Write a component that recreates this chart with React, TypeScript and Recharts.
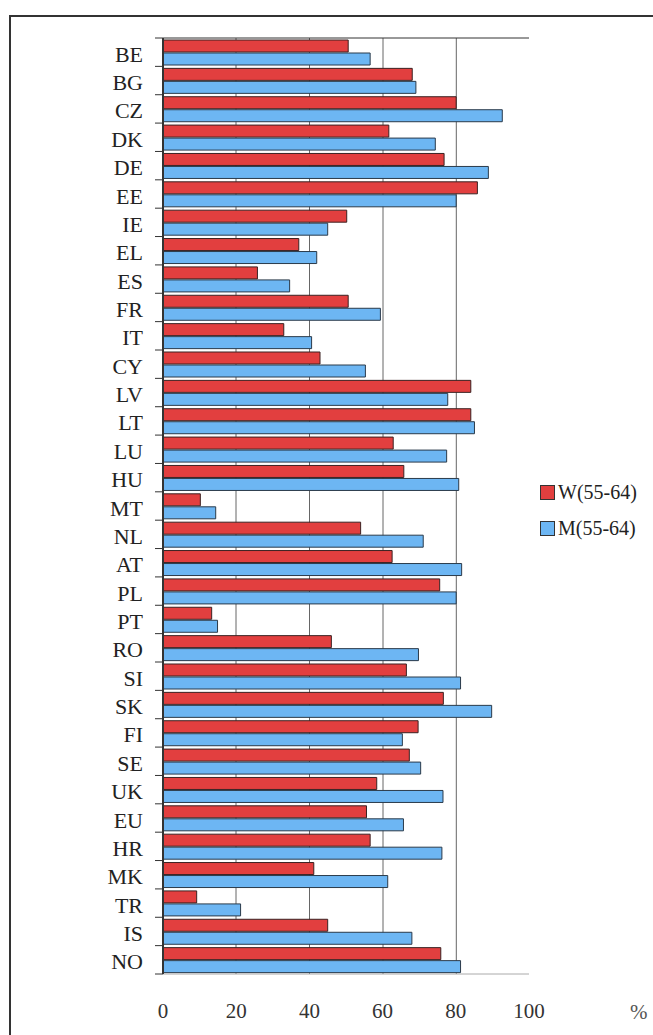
import React from "react";
import { BarChart, Bar, XAxis, YAxis, CartesianGrid } from "recharts";

const countries = [
  "BE", "BG", "CZ", "DK", "DE", "EE", "IE", "EL", "ES", "FR", "IT",
  "CY", "LV", "LT", "LU", "HU", "MT", "NL", "AT", "PL", "PT", "RO",
  "SI", "SK", "FI", "SE", "UK", "EU", "HR", "MK", "TR", "IS", "NO",
];

const women = [
  50.6, 68.1, 80.1, 61.7, 76.8, 85.9, 50.2, 37.1, 25.8, 50.6, 33.0,
  42.9, 84.1, 84.1, 62.9, 65.8, 10.2, 54.0, 62.6, 75.6, 13.3, 46.0,
  66.5, 76.6, 69.7, 67.3, 58.4, 55.6, 56.6, 41.2, 9.2, 45.0, 75.9,
];

const men = [
  56.6, 69.1, 92.7, 74.4, 88.9, 80.1, 45.0, 42.0, 34.6, 59.4, 40.6,
  55.3, 77.8, 85.1, 77.5, 80.8, 14.4, 71.1, 81.6, 80.1, 14.9, 69.8,
  81.3, 89.8, 65.4, 70.4, 76.5, 65.7, 76.2, 61.4, 21.2, 68.0, 81.3,
];

const xTicks = [0, 20, 40, 60, 80, 100];

const data = countries.map((c, i) => ({ name: c, w: women[i], m: men[i] }));

const FONT = "'Liberation Serif', 'DejaVu Serif', serif";
const RED = "#e23f3f";
const BLUE = "#6db6f3";

const W = 653;
const H = 1035;
const TOP = 38;
const BOTTOM = 974;
const BAND = (BOTTOM - TOP) / countries.length;

function CountryTick(props: any) {
  const { x, y, payload } = props;
  const half = BAND / 2;
  return (
    <g>
      <text
        x={x - 20}
        y={y + 2}
        textAnchor="end"
        dominantBaseline="central"
        fontFamily={FONT}
        fontSize={22}
        fill="#222"
      >
        {payload.value}
      </text>
      <line x1={x - 8} x2={x} y1={y + half} y2={y + half} stroke="#333" />
      {payload.index === 0 && (
        <line x1={x - 8} x2={x} y1={y - half} y2={y - half} stroke="#333" />
      )}
    </g>
  );
}

function LegendBox() {
  const items = [
    { label: "W(55-64)", color: RED },
    { label: "M(55-64)", color: BLUE },
  ];
  return (
    <div
      style={{
        position: "absolute",
        left: 540,
        top: 474,
        fontFamily: FONT,
        fontSize: 20,
        color: "#222",
      }}
    >
      {items.map((it) => (
        <div
          key={it.label}
          style={{ display: "flex", alignItems: "center", height: 36 }}
        >
          <span
            style={{
              display: "inline-block",
              width: 13,
              height: 13,
              background: it.color,
              border: "1px solid #333",
              marginRight: 3,
            }}
          />
          {it.label}
        </div>
      ))}
    </div>
  );
}

export default function App() {
  return (
    <div
      style={{
        position: "absolute",
        left: 0,
        top: 0,
        width: W,
        height: H,
        background: "#fff",
        overflow: "hidden",
      }}
    >
      <div
        style={{
          position: "absolute",
          left: 9,
          top: 15,
          width: 660,
          height: 1060,
          border: "2px solid #333",
          boxSizing: "border-box",
        }}
      />
      <div style={{ position: "absolute", left: 0, top: 0 }}>
        <BarChart
          width={W}
          height={H}
          data={data}
          layout="vertical"
          margin={{ top: 32, right: 124, bottom: 21, left: 0 }}
          barCategoryGap={2}
          barGap={1}
        >
          <CartesianGrid
            horizontal={false}
            vertical
            stroke="#666"
            verticalPoints={[236, 309.5, 383, 456.3]}
          />
          <XAxis
            xAxisId="top"
            orientation="top"
            type="number"
            domain={[0, 100]}
            ticks={xTicks}
            height={6}
            tick={false}
            tickSize={6}
            tickLine={{ stroke: "#555" }}
            axisLine={{ stroke: "#333" }}
          />
          <XAxis
            xAxisId="bottom"
            orientation="bottom"
            type="number"
            domain={[0, 100]}
            ticks={xTicks}
            height={40}
            tickLine={false}
            tickSize={0}
            tickMargin={29}
            axisLine={{ stroke: "#aaa" }}
            tick={{ fontFamily: FONT, fontSize: 21, fill: "#333" }}
          />
          <YAxis
            yAxisId="left"
            type="category"
            dataKey="name"
            width={163}
            tickLine={false}
            tickSize={0}
            tickMargin={0}
            interval={0}
            axisLine={{ stroke: "#333", strokeWidth: 2 }}
            tick={<CountryTick />}
          />
          <YAxis
            yAxisId="right"
            orientation="right"
            type="category"
            dataKey="name"
            width={0}
            tick={false}
            tickLine={false}
            axisLine={{ stroke: "#999" }}
          />
          <Bar
            xAxisId="bottom"
            yAxisId="left"
            dataKey="w"
            name="W(55-64)"
            fill={RED}
            stroke="#3a2222"
            strokeWidth={1}
            isAnimationActive={false}
          />
          <Bar
            xAxisId="bottom"
            yAxisId="left"
            dataKey="m"
            name="M(55-64)"
            fill={BLUE}
            stroke="#2a3a4a"
            strokeWidth={1}
            isAnimationActive={false}
          />
        </BarChart>
      </div>
      <LegendBox />
      <div
        style={{
          position: "absolute",
          left: 630,
          top: 1000,
          fontFamily: FONT,
          fontSize: 21,
          color: "#555",
        }}
      >
        %
      </div>
    </div>
  );
}
